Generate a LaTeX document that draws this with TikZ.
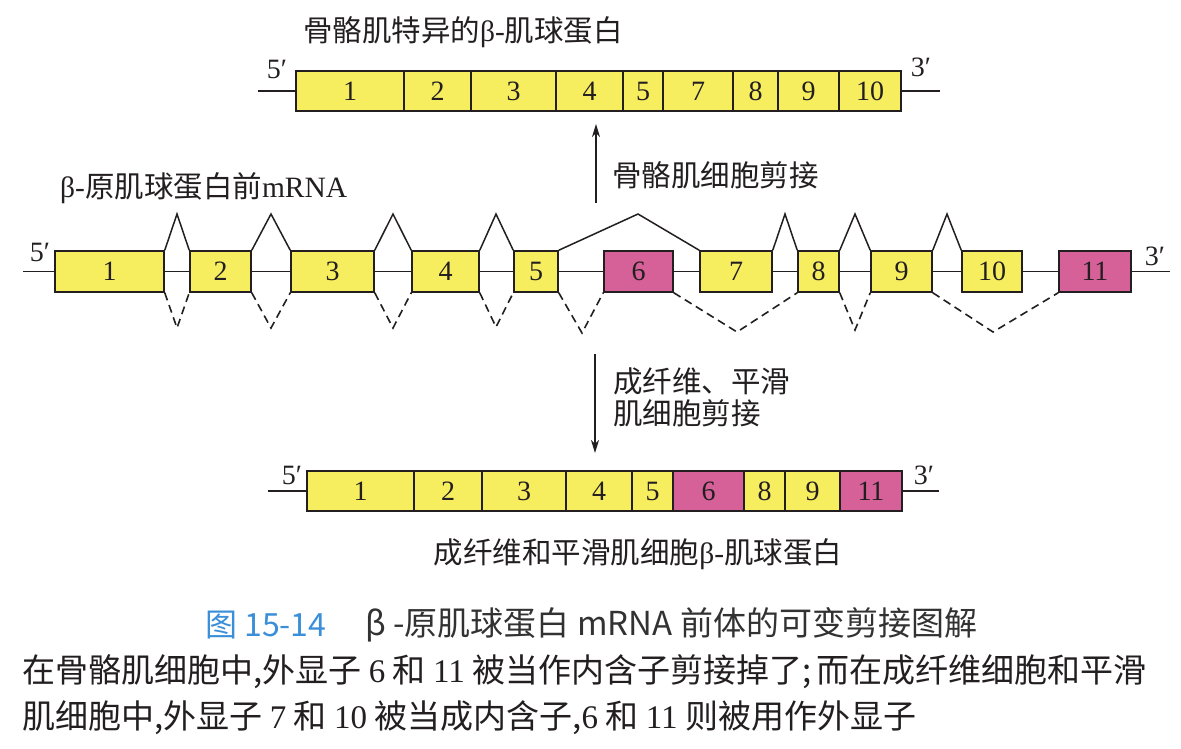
\documentclass[tikz,border=0pt]{standalone}
\usepackage{fontspec}
\setmainfont{Liberation Serif}
\newfontfamily\cjk{Noto Sans CJK SC}
\usetikzlibrary{arrows.meta}
\definecolor{exy}{RGB}{247,238,95}
\definecolor{exm}{RGB}{214,96,152}
\definecolor{ink}{RGB}{35,31,32}
\definecolor{capblue}{RGB}{58,143,216}
\definecolor{capgray}{RGB}{50,50,50}
\tikzset{
  exon/.style={draw=ink, line width=1.5pt, inner sep=0pt, text=ink,
    font=\fontsize{28}{28}\selectfont},
  strand/.style={draw=ink, line width=1.5pt},
  splice/.style={draw=ink, line width=1.5pt, line join=miter},
  skip/.style={draw=ink, line width=1.6pt, dash pattern=on 8pt off 5pt},
  prime/.style={font=\fontsize{28}{28}\selectfont, text=ink, inner sep=0pt},
  lbl/.style={font=\cjk\fontsize{29.5}{29.5}\selectfont, text=ink, inner sep=0pt},
  flow/.style={draw=ink, line width=1.5pt, -{Stealth[length=13pt,width=8pt,inset=4pt]}},
  captionnum/.style={font=\cjk\fontsize{32}{32}\selectfont, text=capblue, inner sep=0pt, anchor=west},
  captiontxt/.style={font=\cjk\fontsize{33}{33}\selectfont, text=capgray, inner sep=0pt, anchor=west},
  bodytxt/.style={font=\cjk\fontsize{33}{33}\selectfont, text=ink, inner sep=0pt, anchor=west},
}
\begin{document}
\begin{tikzpicture}[x=1pt,y=-1pt]
\useasboundingbox (0,0) rectangle (1181,748);

% ---------- top: skeletal muscle ----------
\node[lbl] (ttitle) at (463,32) {骨骼肌特异的{\rmfamily β-}肌球蛋白};
\foreach \n/\c/\w/\f in {1/350/108/exy, 2/437.5/67/exy, 3/513.5/85/exy, 4/589.5/67/exy,
  5/643/40/exy, 7/698/70/exy, 8/755.5/45/exy, 9/808.5/61/exy, 10/870/62/exy}
  \node[exon, fill=\f, minimum width=\w pt, minimum height=40pt] (t\n) at (\c,91) {\n};
\coordinate (t5p) at (258,91);
\coordinate (t3p) at (940,91);
\draw[strand] (t5p) -- (t1.west);
\draw[strand] (t10.east) -- (t3p);
\node[prime] (t5l) at (277,69) {5′};
\node[prime] (t3l) at (921,67) {3′};

% up arrow
\coordinate (upS) at (596,203);
\coordinate (upE) at (596,124);
\draw[flow] (upS) -- (upE);
\node[lbl, anchor=west] (uplbl) at (612,175) {骨骼肌细胞剪接};

% ---------- middle: pre-mRNA ----------
\node[lbl, anchor=west] (mtitle) at (60,188) {{\rmfamily β-}原肌球蛋白前{\rmfamily mRNA}};
\foreach \n/\c/\w/\f in {1/109.5/109/exy, 2/220.5/61/exy, 3/332.5/83/exy, 4/445.5/67/exy,
  5/536/44/exy, 6/638.5/69/exm, 7/736/72/exy, 8/818.5/41/exy, 9/901.5/61/exy,
  10/992/60/exy, 11/1095/72/exm}
  \node[exon, fill=\f, minimum width=\w pt, minimum height=41pt] (m\n) at (\c,271.5) {\n};
\coordinate (m5p) at (23,271.5);
\coordinate (m3p) at (1170,271.5);
\draw[strand] (m5p) -- (m1.west);
\draw[strand] (m11.east) -- (m3p);
\foreach \a/\b in {1/2,2/3,3/4,4/5,5/6,6/7,7/8,8/9,9/10,10/11}
  \draw[strand] (m\a.east) -- (m\b.west);
\foreach \a/\b/\px in {1/2/177, 2/3/271, 3/4/393, 4/5/496, 5/7/638, 7/8/785, 8/9/855, 9/10/947}{
  \coordinate (pk\a) at (\px,214);
  \draw[splice] (m\a.north east) -- (pk\a) -- (m\b.north west);
}
\foreach \a/\b/\px/\py in {1/2/177/328, 2/3/271/328, 3/4/393/328, 4/5/496/327,
  5/6/582/333, 6/8/737/332, 8/9/855/330, 9/11/993/332}{
  \coordinate (dv\a) at (\px,\py);
  \draw[skip] (m\a.south east) -- (dv\a) -- (m\b.south west);
}
\node[prime] (m5l) at (40,252) {5′};
\node[prime] (m3l) at (1155,256) {3′};

% down arrow
\coordinate (dnS) at (595,354);
\coordinate (dnE) at (595,453);
\draw[flow] (dnS) -- (dnE);
\node[lbl, anchor=west] (dnlbl1) at (613,381) {成纤维、平滑};
\node[lbl, anchor=west] (dnlbl2) at (613,413) {肌细胞剪接};

% ---------- bottom: fibroblast / smooth muscle ----------
\foreach \n/\c/\w/\f in {1/360.5/107/exy, 2/448/68/exy, 3/524/84/exy, 4/599/66/exy,
  5/652.5/41/exy, 6/708.5/71/exm, 8/764.5/41/exy, 9/812.5/55/exy, 11/871/62/exm}
  \node[exon, fill=\f, minimum width=\w pt, minimum height=40pt] (b\n) at (\c,491) {\n};
\coordinate (b5p) at (268,491);
\coordinate (b3p) at (939,491);
\draw[strand] (b5p) -- (b1.west);
\draw[strand] (b11.east) -- (b3p);
\node[prime] (b5l) at (292,475) {5′};
\node[prime] (b3l) at (924,475) {3′};
\node[lbl] (btitle) at (638,554) {成纤维和平滑肌细胞{\rmfamily β-}肌球蛋白};

% ---------- caption ----------
\node[captionnum] (capnum) at (205,625) {图 15-14};
\node[captiontxt] (captxt) at (365,625) {β -原肌球蛋白 mRNA 前体的可变剪接图解};
\node[bodytxt] (body1) at (22,672) {在骨骼肌细胞中,外显子 {\rmfamily 6} 和 {\rmfamily 11} 被当作内含子剪接掉了;\,而在成纤维细胞和平滑};
\node[bodytxt] (body2) at (22,718) {肌细胞中,外显子 {\rmfamily 7} 和 {\rmfamily 10} 被当成内含子,{\rmfamily 6} 和 {\rmfamily 11} 则被用作外显子};
\end{tikzpicture}
\end{document}
